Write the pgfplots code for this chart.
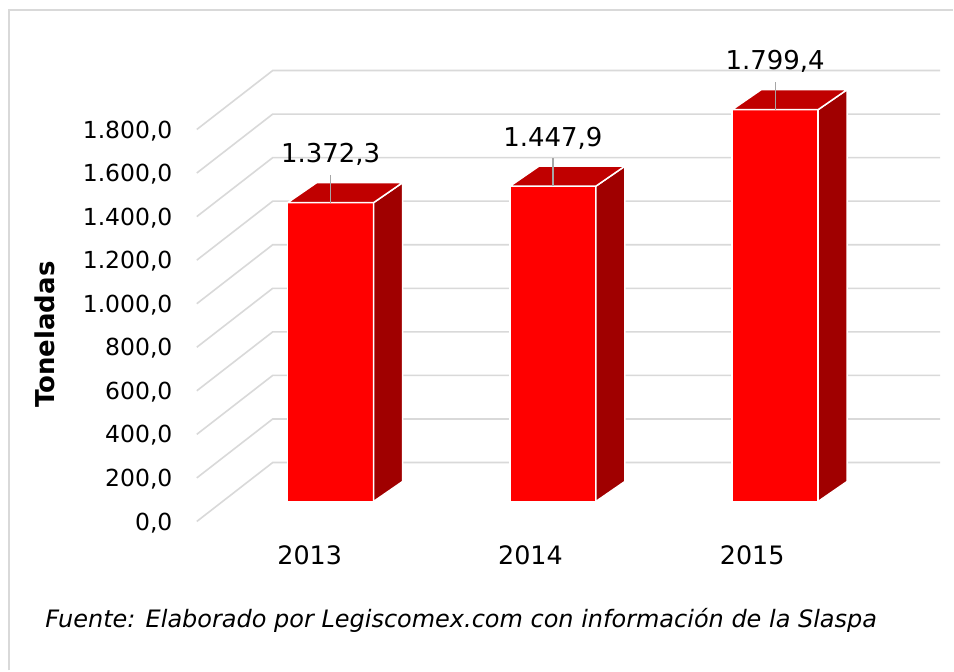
\documentclass[border=0pt]{standalone}
\usepackage{pgfplots}
\pgfplotsset{compat=1.18}
\usepackage{fontspec}
\setmainfont{DejaVu Sans}
\definecolor{gridgray}{HTML}{D9D9D9}
\definecolor{frontred}{HTML}{FF0000}
\definecolor{topred}{HTML}{C00000}
\definecolor{sidered}{HTML}{A00000}
\definecolor{leadergray}{HTML}{A6A6A6}
\begin{document}
\begin{tikzpicture}
\begin{axis}[
  x=111.25pt, y=0.109pt,
  xmin=-1.48764, xmax=2.8, ymin=-775.2, ymax=2302.8,
  hide axis, clip=false,
]
% background (fixes picture size: 954 x 671 px at 0.5pt/px)
\fill[white] (axis cs:-1.48764,-775.2) rectangle (axis cs:2.8,2302.8);
% chart frame
\draw[gridgray, line width=1pt] (axis cs:{(9-331)/222.5},-775.2) -- (axis cs:{(9-331)/222.5},{(502-10.5)*4.5872}) -- (axis cs:2.8,{(502-10.5)*4.5872});
% 3D grid: front-left diagonals and back wall lines
\pgfplotsinvokeforeach{0,200,...,1800}{
  \draw[gridgray, line width=0.8pt] (axis cs:-0.6022,{#1-91.7}) -- (axis cs:-0.2607,{#1+178.9}) -- (axis cs:2.7416,{#1+178.9});
  \node[anchor=base east, inner sep=0pt, yshift=-4.3pt, font=\fontsize{11.75}{14}\selectfont] at (axis cs:-0.7101,{#1-91.7})
    {\pgfmathprintnumber[fixed,fixed zerofill,precision=1,use comma,assume math mode=true]{#1}};
}
% front faces
\addplot[ybar, bar width=43pt, fill=frontred, draw=white, line width=0.75pt]
  coordinates {(0,1372.3) (1,1447.9) (2,1799.4)};
% top and side faces, leader lines and value labels
\addplot[scatter, only marks, mark=*, mark size=0pt, mark options={draw=none,fill=none},
  visualization depends on={rawy \as \bv},
  scatter/@pre marker code/.code={
    \pgfmathsetmacro\h{\bv*0.109}
    \pgfmathsetmacro\hb{10-\h}
    \filldraw[fill=sidered, draw=white, line width=0.75pt] (21.5pt,-\h pt) -- (21.5pt,0pt) -- (36pt,10pt) -- (36pt,\hb pt) -- cycle;
    \filldraw[fill=topred, draw=white, line width=0.75pt] (-21.5pt,0pt) -- (21.5pt,0pt) -- (36pt,10pt) -- (-7pt,10pt) -- cycle;
    \draw[leadergray, line width=0.6pt] (0pt,0pt) -- (0pt,14pt);
    \node[anchor=base, inner sep=0pt, text=black, font=\fontsize{13}{15}\selectfont] at (0pt,20pt)
      {\pgfmathprintnumber[fixed,fixed zerofill,precision=1,use comma,assume math mode=true]{\bv}};
  },
  scatter/@post marker code/.code={},
] coordinates {(0,1372.3) (1,1447.9) (2,1799.4)};
% category labels
\node[anchor=base, inner sep=0pt, font=\fontsize{12.7}{15}\selectfont] at (axis cs:{(310-331)/222.5},{(502-565)*4.5872}) {2013};
\node[anchor=base, inner sep=0pt, font=\fontsize{12.7}{15}\selectfont] at (axis cs:{(531-331)/222.5},{(502-565)*4.5872}) {2014};
\node[anchor=base, inner sep=0pt, font=\fontsize{12.7}{15}\selectfont] at (axis cs:{(753-331)/222.5},{(502-565)*4.5872}) {2015};
% axis title
\node[rotate=90, anchor=base, inner sep=0pt, font=\bfseries\fontsize{13}{15}\selectfont] at (axis cs:{(55-331)/222.5},{(502-335)*4.5872}) {Toneladas};
% source note
\node[anchor=base west, inner sep=0pt, font=\itshape\fontsize{12}{14}\selectfont] at (axis cs:{(45-331)/222.5},{(502-628)*4.5872})
  {Fuente: Elaborado por Legiscomex.com con información de la Slaspa};
\end{axis}
\end{tikzpicture}
\end{document}
